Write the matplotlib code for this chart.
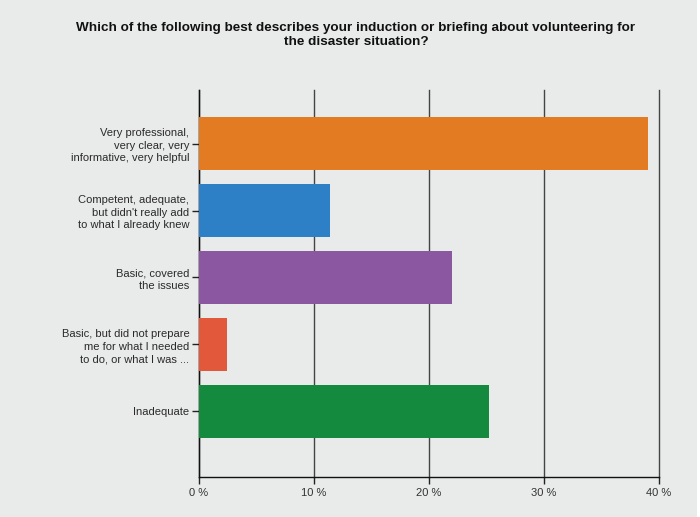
import matplotlib
matplotlib.use("Agg")
from matplotlib import pyplot as plt
from matplotlib.patches import Rectangle

plt.rcParams['font.family'] = ['Liberation Sans', 'DejaVu Sans']

# survey answers, top to bottom
categories = [
    "Very professional,\nvery clear, very\ninformative, very helpful",
    "Competent, adequate,\nbut didn't really add\nto what I already knew",
    "Basic, covered\nthe issues",
    "Basic, but did not prepare\nme for what I needed\nto do, or what I was ...",
    "Inadequate",
]
percent = [39.0, 11.4, 22.0, 2.4, 25.2]
bar_colors = ["#e27b22", "#2d7fc6", "#8a57a0", "#e2583b", "#138a3e"]
x_ticks = [0, 10, 20, 30, 40]
x_ticklabels = ["0 %", "10 %", "20 %", "30 %", "40 %"]
title = ("Which of the following best describes your induction or briefing about volunteering for\n"
         "the disaster situation?")

bg = "#e9eaea"
fig = plt.figure(figsize=(7.0, 5.17), dpi=100, facecolor="white")
fig.patches.append(Rectangle((0, 0), 697 / 700, 1, transform=fig.transFigure,
                             facecolor=bg, edgecolor="none", zorder=-10))

ax = fig.add_axes([199 / 700, 1 - 477 / 517, 460 / 700, 387 / 517])
ax.set_facecolor(bg)

ypos = list(range(len(categories)))
ax.barh(ypos, percent, height=0.79, color=bar_colors, zorder=3)

ax.set_xlim(0, 40)
ax.set_ylim(4.98, -0.8)
ax.set_xticks(x_ticks)
ax.set_xticklabels(x_ticklabels, fontsize=8, color="#333333")
ax.set_yticks(ypos)
ax.set_yticklabels(categories, fontsize=8, color="#2a2a2a", linespacing=1.3)

ax.xaxis.grid(True, color="#444444", linewidth=1.0, zorder=1)
for line in ax.get_xgridlines():
    line.set_clip_on(False)
ax.tick_params(axis="x", length=5, width=1, color="#222222", pad=3)
ax.tick_params(axis="y", length=5, width=1, color="#222222", pad=2)

for side in ["top", "right"]:
    ax.spines[side].set_visible(False)
for side in ["left", "bottom"]:
    ax.spines[side].set_color("#111111")
    ax.spines[side].set_linewidth(1.0)

fig.text(356 / 700, 1 - 35 / 517, title, ha="center", va="center", fontsize=9.7,
         fontweight="bold", color="#111111", linespacing=1.25)

fig.savefig("out.png", dpi=100, facecolor="white")
